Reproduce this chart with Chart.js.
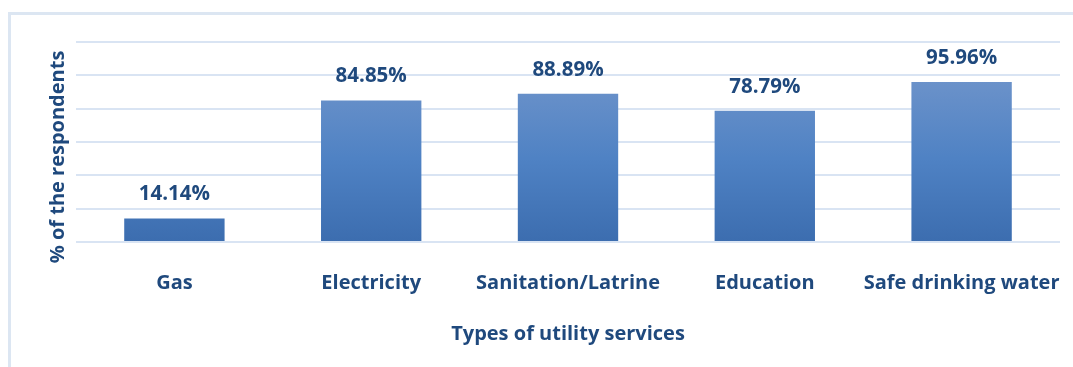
<!DOCTYPE html>
<html>
<head>
<meta charset="utf-8">
<script src="https://cdn.jsdelivr.net/npm/chart.js@4.4.1/dist/chart.umd.min.js"></script>
<style>
  html, body { margin: 0; padding: 0; background: #fff; }
  #wrap { position: relative; width: 1073px; height: 367px; overflow: hidden; }
  #frame {
    position: absolute; left: 8px; top: 12px; width: 1200px; height: 500px;
    border: 3px solid #dce6f2; box-sizing: border-box;
  }
  canvas { position: absolute; left: 0; top: 0; }
</style>
</head>
<body>
<div id="wrap">
  <div id="frame"></div>
  <canvas id="utilityChart" width="1073" height="367"></canvas>
</div>
<script>
"use strict";

// Дані графіка
const categories = ['Gas', 'Electricity', 'Sanitation/Latrine', 'Education', 'Safe drinking water'];
const shares = [14.14, 84.85, 88.89, 78.79, 95.96];
const yTicks = [0, 20, 40, 60, 80, 100, 120];

const textColor = '#1f497d';
const fontFamily = '"Open Sans", sans-serif';

// Підписи значень над стовпчиками
const valueLabels = {
    id: 'valueLabels',
    afterDatasetsDraw(chart) {
        const ctx = chart.ctx;
        const meta = chart.getDatasetMeta(0);
        ctx.save();
        ctx.fillStyle = textColor;
        ctx.font = 'bold 20.5px ' + fontFamily;
        ctx.textAlign = 'center';
        ctx.textBaseline = 'middle';
        meta.data.forEach((bar, i) => {
            ctx.fillText(shares[i].toFixed(2) + '%', bar.x, bar.y - 24);
        });
        ctx.restore();
    }
};

// Назва осі Y (трохи нижче центру, як в оригіналі)
const yTitle = {
    id: 'yTitle',
    afterDraw(chart) {
        const ctx = chart.ctx;
        ctx.save();
        ctx.translate(58, 157);
        ctx.rotate(-Math.PI / 2);
        ctx.fillStyle = textColor;
        ctx.font = 'bold 20px ' + fontFamily;
        ctx.textAlign = 'center';
        ctx.textBaseline = 'middle';
        ctx.fillText('% of the respondents', 0, 0);
        ctx.restore();
    }
};

function barGradient(context) {
    const chart = context.chart;
    const area = chart.chartArea;
    if (!area) return '#4f81bd';
    const y0 = chart.scales.y.getPixelForValue(100);
    const g = chart.ctx.createLinearGradient(0, y0, 0, area.bottom);
    g.addColorStop(0, '#6d93ca');
    g.addColorStop(0.5, '#4f82c4');
    g.addColorStop(1, '#3c6daf');
    return g;
}

new Chart(document.getElementById('utilityChart'), {
    type: 'bar',
    data: {
        labels: categories,
        datasets: [{
            data: shares,
            backgroundColor: barGradient,
            borderWidth: 0,
            barPercentage: 0.51,
            categoryPercentage: 1
        }]
    },
    options: {
        responsive: false,
        animation: false,
        layout: { padding: { top: 42, right: 13, bottom: 0, left: 0 } },
        plugins: {
            legend: { display: false },
            tooltip: { enabled: false }
        },
        scales: {
            x: {
                grid: { display: false, drawTicks: false },
                border: { display: false },
                ticks: {
                    color: textColor,
                    font: { family: fontFamily, size: 20, weight: 'bold' },
                    padding: 29,
                    maxRotation: 0,
                    autoSkip: false
                },
                title: {
                    display: true,
                    text: 'Types of utility services',
                    color: textColor,
                    font: { family: fontFamily, size: 20, weight: 'bold' },
                    padding: { top: 0, bottom: 21 }
                },
                afterFit(scale) {
                    scale.height = 125;
                    scale.paddingLeft = 0;
                    scale.paddingRight = 0;
                }
            },
            y: {
                min: yTicks[0],
                max: yTicks[yTicks.length - 1],
                afterBuildTicks(scale) {
                    scale.ticks = yTicks.map(v => ({ value: v }));
                },
                ticks: { display: false },
                grid: { color: '#d9e4f3', lineWidth: 2, drawTicks: false },
                border: { display: false },
                afterFit(scale) { scale.width = 76; }
            }
        }
    },
    plugins: [valueLabels, yTitle]
});
</script>
</body>
</html>
